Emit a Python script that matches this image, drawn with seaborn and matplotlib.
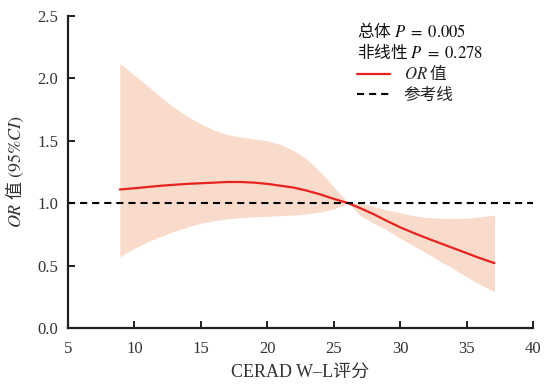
import matplotlib
matplotlib.use('Agg')
import matplotlib.pyplot as plt
import seaborn as sns
import pandas as pd

# values
score = [8.9, 10, 11, 12, 13, 14, 15, 16, 17, 18, 19, 20, 21, 22, 23, 24, 25, 26.1,
         27, 28, 29, 30, 31, 32, 33, 34, 35, 36, 37.1]
or_val = [1.11, 1.12, 1.13, 1.14, 1.148, 1.155, 1.16, 1.165, 1.17, 1.17, 1.165, 1.155,
          1.14, 1.125, 1.10, 1.07, 1.035, 1.0, 0.96, 0.912, 0.858, 0.807, 0.762, 0.72,
          0.68, 0.64, 0.60, 0.56, 0.52]
ci_low = [0.57, 0.64, 0.69, 0.735, 0.775, 0.81, 0.84, 0.86, 0.875, 0.885, 0.89, 0.895,
          0.90, 0.905, 0.915, 0.93, 0.955, 1.0, 0.90, 0.84, 0.785, 0.72, 0.66, 0.60,
          0.535, 0.475, 0.41, 0.35, 0.29]
ci_high = [2.12, 2.025, 1.94, 1.85, 1.765, 1.695, 1.635, 1.585, 1.55, 1.53, 1.515, 1.50,
           1.47, 1.42, 1.35, 1.25, 1.13, 1.0, 1.0, 0.975, 0.945, 0.925, 0.90, 0.885,
           0.88, 0.878, 0.88, 0.89, 0.905]
p_overall = '0.005'
p_nonlinear = '0.278'

df = pd.DataFrame({'score': score, 'or': or_val, 'lo': ci_low, 'hi': ci_high})

sns.set_style('ticks')
plt.rcParams['font.family'] = ['Liberation Serif', 'Noto Sans CJK SC']
plt.rcParams['mathtext.fontset'] = 'stix'
plt.rcParams['axes.unicode_minus'] = False
cjk = 'Noto Sans CJK SC'

fig = plt.figure(figsize=(5.45, 3.84), dpi=100)
ax = fig.add_axes([0.1248, 0.1458, 0.8532, 0.8125])

ax.fill_between(df['score'], df['lo'], df['hi'], color='#f9dbcc', linewidth=0)
sns.lineplot(data=df, x='score', y='or', ax=ax, color='#e8231e', linewidth=1.6,
             label='$OR$ 值')
ax.axhline(1.0, color='black', linestyle=(0, (3.4, 2.4)), linewidth=1.5, label='参考线')

ax.set_xlim(5, 40)
ax.set_ylim(0, 2.5)
ax.set_xticks(range(5, 41, 5))
ax.set_yticks([0, 0.5, 1.0, 1.5, 2.0, 2.5])
ax.set_yticklabels(['0.0', '0.5', '1.0', '1.5', '2.0', '2.5'])
ax.tick_params(direction='in', length=5, width=1.4, labelsize=12, colors='#231f20',
               labelcolor='#333333')
ax.tick_params(axis='x', pad=9)
ax.tick_params(axis='y', pad=7)
for s in ['top', 'right']:
    ax.spines[s].set_visible(False)
for s in ['left', 'bottom']:
    ax.spines[s].set_linewidth(1.6)
    ax.spines[s].set_color('#231f20')

ax.set_xlabel('CERAD W–L评分', fontsize=13, color='#333333', labelpad=5)
ax.set_ylabel(r'$OR$ 值 $(95\%CI)$', fontsize=13, color='#333333', labelpad=8,
              family=cjk)

ax.text(0.6215, 0.983, '总体 $P$ $=$ $' + p_overall + '$',
        transform=ax.transAxes, fontsize=12, va='top', ha='left', color='#111111',
        family=cjk)
ax.text(0.6215, 0.918, '非线性 $P$ $=$ $' + p_nonlinear + '$',
        transform=ax.transAxes, fontsize=12, va='top', ha='left', color='#111111',
        family=cjk)
ax.legend(loc='upper left', bbox_to_anchor=(0.6215, 0.848), frameon=False,
          prop={'family': cjk, 'size': 12}, borderpad=0, borderaxespad=0,
          handlelength=2.0, handletextpad=0.8, labelspacing=0.22)

fig.savefig('out.png', dpi=100)
